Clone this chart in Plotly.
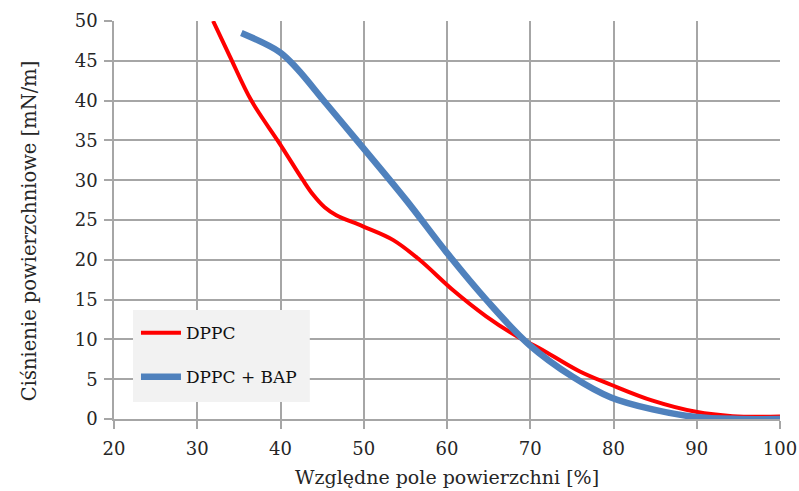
import plotly.graph_objects as go

# Relative surface area [%] and surface pressure [mN/m]
dppc_area = [31.9, 33.9, 36.5, 39.9, 42.7, 43.9, 45.3, 46.7, 49.9, 53.5, 56.7, 60.7,
             64.7, 68.7, 71.1, 75.9, 79.7, 84.7, 89.9, 94.3, 100.0]
dppc_pressure = [50.0, 45.6, 40.0, 34.6, 30.0, 28.2, 26.6, 25.6, 24.2, 22.5, 20.0, 16.2,
                 12.9, 10.2, 8.9, 6.0, 4.3, 2.3, 0.9, 0.35, 0.3]

bap_area = [35.3, 39.9, 42.0, 45.5, 49.9, 55.1, 59.9, 64.7, 69.9, 75.1, 79.7,
            84.7, 89.9, 95.0, 100.0]
bap_pressure = [48.5, 46.1, 44.0, 39.6, 34.1, 27.5, 21.0, 15.0, 9.3, 5.3, 2.7,
                1.2, 0.25, 0.0, 0.0]

x_ticks = [20, 30, 40, 50, 60, 70, 80, 90, 100]
y_ticks = [0, 5, 10, 15, 20, 25, 30, 35, 40, 45, 50]

FONT = "DejaVu Serif"
GRID = "#A6A6A6"
TEXT = "#262626"

fig = go.Figure()
fig.add_trace(go.Scatter(
    x=dppc_area, y=dppc_pressure, mode="lines", name="DPPC", legendgroup="a",
    line=dict(color="#FF0000", width=4, shape="spline", smoothing=1.0),
))
fig.add_trace(go.Scatter(
    x=bap_area, y=bap_pressure, mode="lines", name="DPPC + BAP", legendgroup="b",
    line=dict(color="#4F81BD", width=6.5, shape="spline", smoothing=1.0),
))

axis_common = dict(
    showgrid=True, gridcolor=GRID, gridwidth=1.5,
    showline=True, linecolor=GRID, linewidth=1.5,
    ticks="outside", ticklen=8, tickcolor=GRID, tickwidth=1.5,
    zeroline=False, automargin=False,
    tickfont=dict(family=FONT, size=18, color=TEXT),
)

fig.update_xaxes(range=[20, 100], tickvals=x_ticks, ticklabelstandoff=5, **axis_common)
fig.update_yaxes(range=[0, 50], tickvals=y_ticks, ticklabelstandoff=3, **axis_common)

# Axis titles
fig.add_annotation(
    text="Względne pole powierzchni [%]", xref="paper", yref="paper",
    x=0.5, y=-0.146, xanchor="center", yanchor="middle", showarrow=False,
    font=dict(family=FONT, size=19, color=TEXT),
)
fig.add_annotation(
    text="Ciśnienie powierzchniowe [mN/m]", xref="paper", yref="paper",
    x=-0.1276, y=0.472, xanchor="center", yanchor="middle", showarrow=False,
    textangle=-90, font=dict(family=FONT, size=19.5, color=TEXT),
)

# Legend background panel
fig.add_shape(
    type="rect", xref="paper", yref="paper",
    x0=0.0285, x1=0.294, y0=0.0427, y1=0.274,
    fillcolor="#F2F2F2", line=dict(width=0), layer="above",
)

fig.update_layout(
    width=799, height=491,
    margin=dict(l=114, r=19, t=21, b=72),
    plot_bgcolor="white", paper_bgcolor="white",
    showlegend=True,
    legend=dict(
        x=0.033, y=0.261, xanchor="left", yanchor="top",
        bgcolor="rgba(0,0,0,0)", borderwidth=0,
        font=dict(family=FONT, size=17, color="#111111"),
        itemwidth=40, tracegroupgap=19,
    ),
)

fig.write_html("out.html")
